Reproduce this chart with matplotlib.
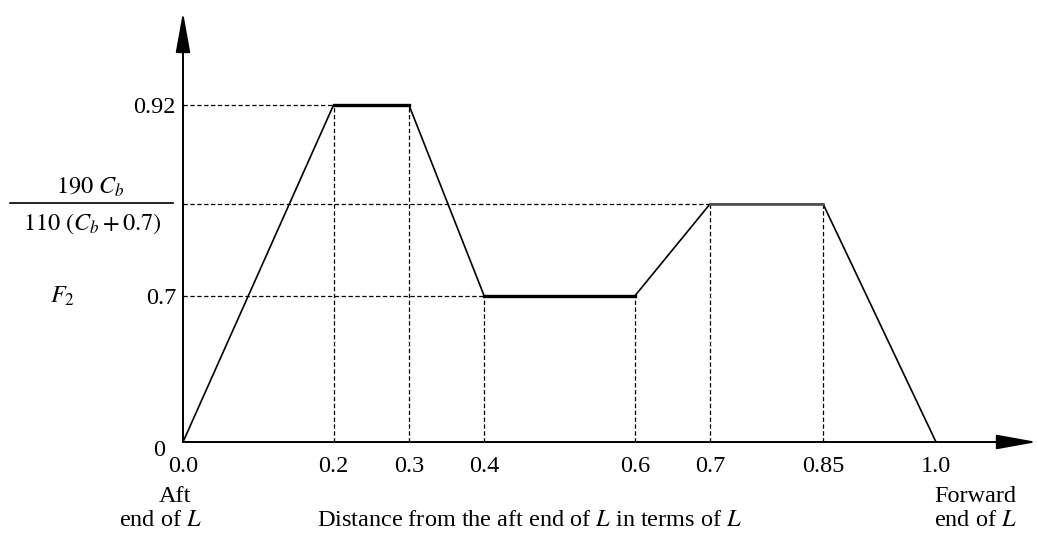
import numpy as np
import matplotlib
matplotlib.use('Agg')
import matplotlib.pyplot as plt
from matplotlib.lines import Line2D

plt.rcParams['font.family'] = 'Liberation Serif'
plt.rcParams['mathtext.fontset'] = 'stix'

# distribution points (x in terms of L, F value)
F_mid = 0.806   # 190 Cb / (110 (Cb + 0.7)), drawn between 0.7 and 0.92
x_pts = [0.0, 0.2, 0.3, 0.4, 0.6, 0.7, 0.85, 1.0]
y_pts = [0.0, 0.92, 0.92, 0.7, 0.7, F_mid, F_mid, 0.0]
x_labels = ['0.0', '0.2', '0.3', '0.4', '0.6', '0.7', '0.85', '1.0']
y_ticks = [0.7, 0.92]
y_labels = ['0.7', '0.92']

# schematic (not to scale) vertical axis
sch_vals = [0.0, 0.7, 0.92, 2.0]
sch_pos = [0.0, 146.0, 337.0, 1274.6]
def fwd(v):
    return np.interp(v, sch_vals, sch_pos)
def inv(p):
    return np.interp(p, sch_pos, sch_vals)

fig = plt.figure(figsize=(10.38, 5.36), dpi=100)
ax = fig.add_axes([183/1038, 94/536, 854/1038, 430/536])
ax.set_yscale('function', functions=(fwd, inv))
ax.set_xlim(0, 854/753)
ax.set_ylim(0, 1.027)
for s in ax.spines.values():
    s.set_visible(False)

# dashed guide lines
dash = dict(color='black', lw=0.9, ls=(0, (3.5, 2)))
ax.plot([0, 0.2], [0.92, 0.92], **dash)
ax.plot([0, 0.7], [F_mid, F_mid], **dash)
ax.plot([0, 0.4], [0.7, 0.7], **dash)
for x, y in zip(x_pts[1:-1], y_pts[1:-1]):
    ax.plot([x, x], [0, y], **dash)

# main curve
ax.plot(x_pts, y_pts, color='black', lw=1.2, solid_joinstyle='miter', zorder=3)
ax.plot(x_pts[1:3], y_pts[1:3], color='black', lw=2.4, zorder=4)
ax.plot(x_pts[3:5], y_pts[3:5], color='black', lw=2.4, zorder=4)
ax.plot(x_pts[5:7], y_pts[5:7], color='#555555', lw=2.0, zorder=4)

# axes with arrows
arr = dict(arrowstyle='-|>,head_length=2.5,head_width=0.45', color='black',
           lw=1.4, shrinkA=0, shrinkB=0, mutation_scale=10)
ax.annotate('', xy=(0, 1), xytext=(0, 0), xycoords='axes fraction', arrowprops=arr)
ax.annotate('', xy=(1, 0), xytext=(0, 0), xycoords='axes fraction', arrowprops=arr)

fs = 17.5
ax.set_xticks(x_pts, x_labels)
ax.set_yticks(y_ticks, y_labels)
ax.tick_params(length=0, labelsize=fs)
ax.tick_params(axis='y', pad=5)
ax.tick_params(axis='x', pad=10)

ax.annotate('0', xy=(0, 0), xytext=(-17, -6), textcoords='offset points',
            ha='center', va='center', fontsize=fs)
ax.annotate('$F_2$', xy=(0, 0.7), xytext=(-87, 0), textcoords='offset points',
            ha='center', va='center', fontsize=fs)
ax.annotate('$190\\ C_b$', xy=(0, F_mid), xytext=(-67, 12), textcoords='offset points',
            ha='center', va='center', fontsize=fs)
ax.annotate('$110\\ (C_b + 0.7)$', xy=(0, F_mid), xytext=(-65, -14), textcoords='offset points',
            ha='center', va='center', fontsize=fs)
fig.add_artist(Line2D([10/1038, 173/1038], [1-203/536, 1-203/536], color='black', lw=1.2))

fig.text(175/1038, 1-497/536, 'Aft', ha='center', va='center', fontsize=fs)
fig.text(160/1038, 1-521/536, 'end of $L$', ha='center', va='center', fontsize=fs)
fig.text(975/1038, 1-497/536, 'Forward', ha='center', va='center', fontsize=fs)
fig.text(975/1038, 1-521/536, 'end of $L$', ha='center', va='center', fontsize=fs)
fig.text(530/1038, 1-521/536, 'Distance from the aft end of $L$ in terms of $L$',
         ha='center', va='center', fontsize=fs)

fig.savefig('out.png')
